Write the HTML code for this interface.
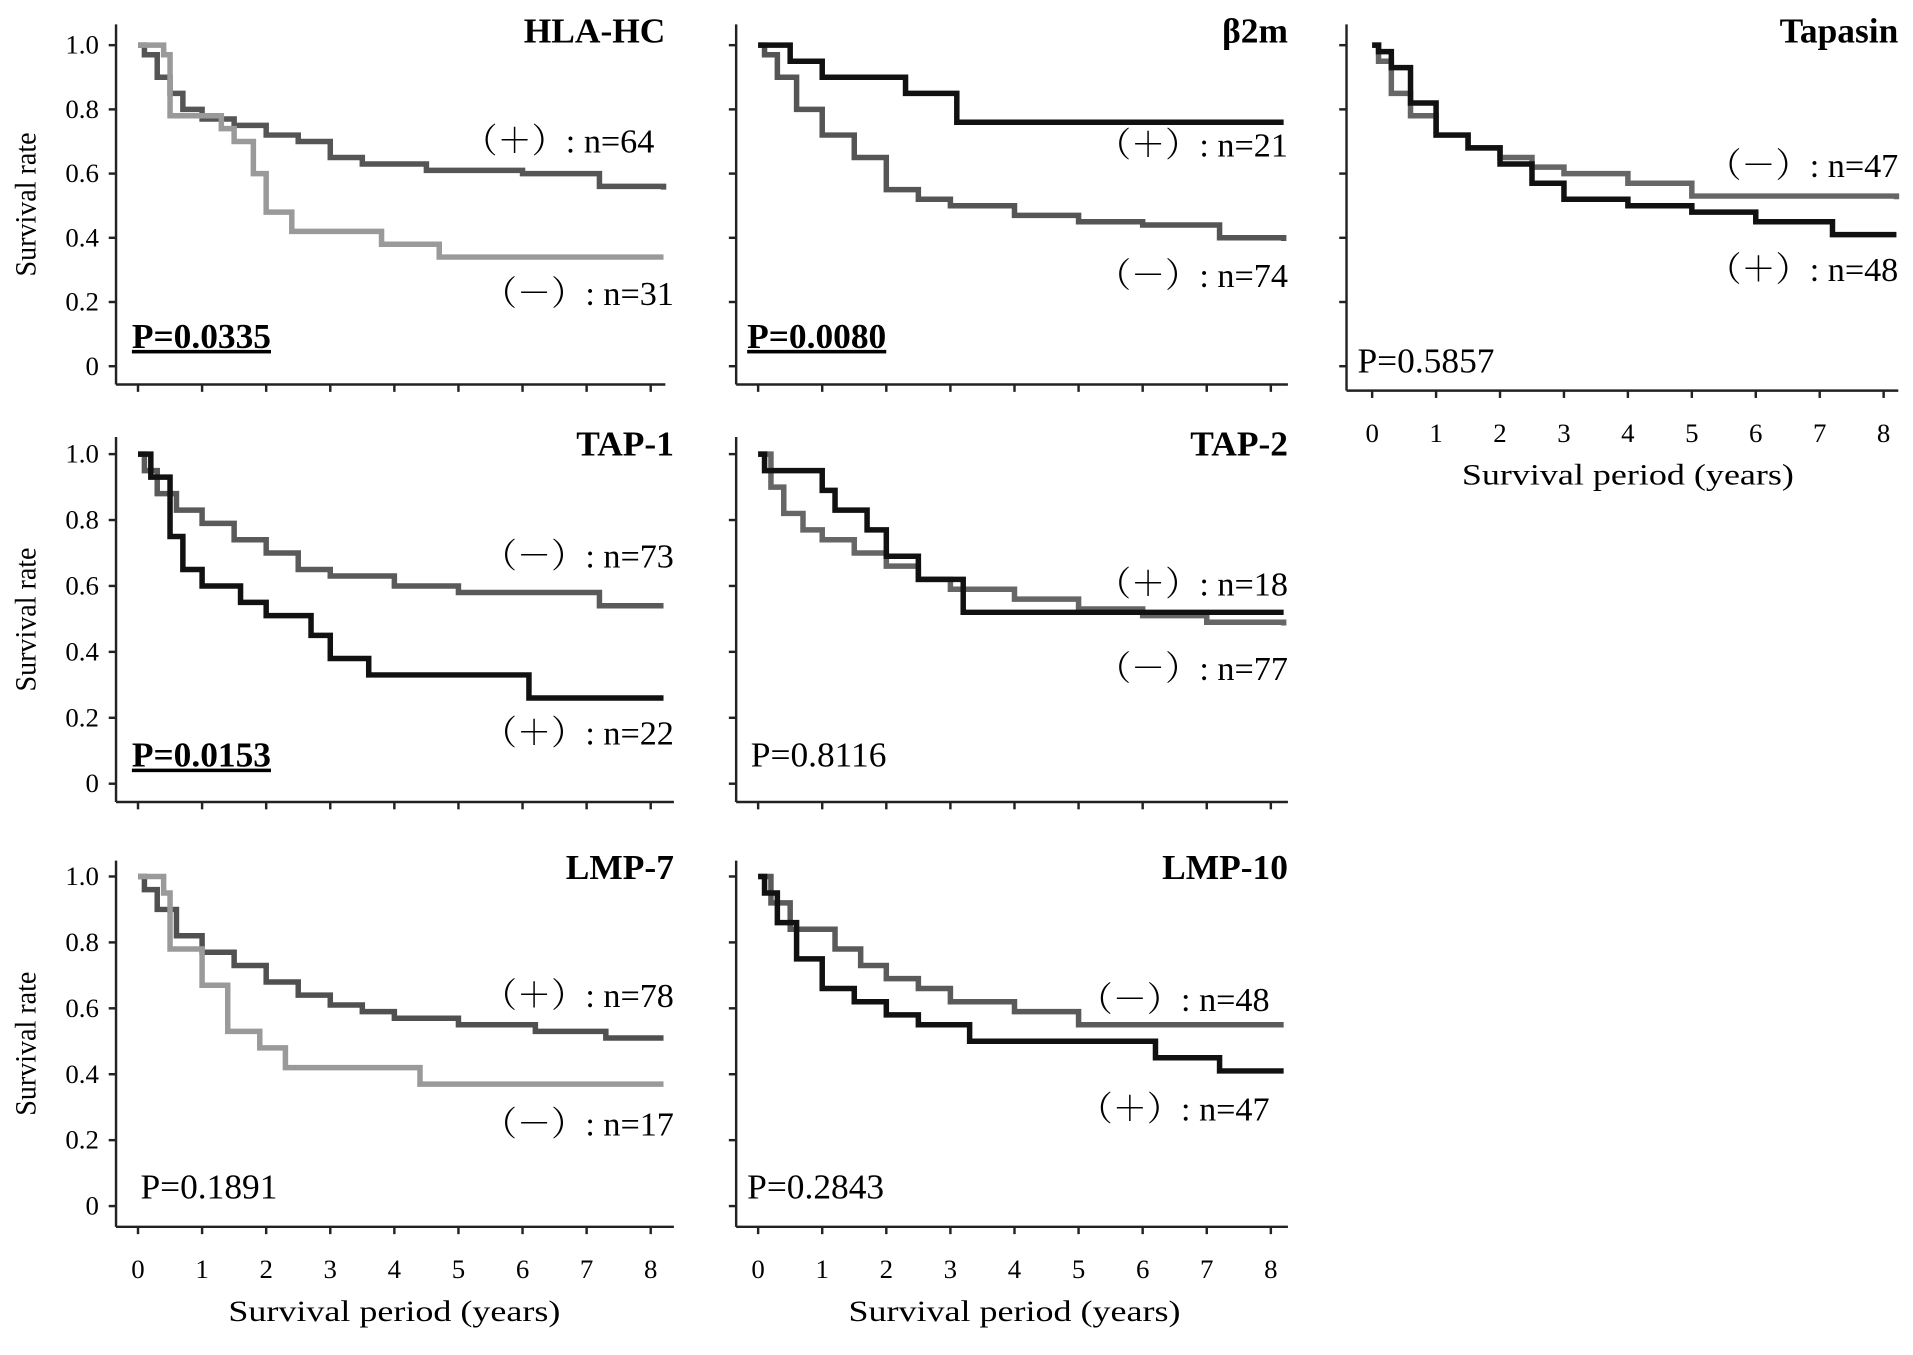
<!DOCTYPE html>
<html><head><meta charset="utf-8"><style>
html,body{margin:0;padding:0;background:#fff;}
svg{display:block;}
text{font-family:"Liberation Serif","Noto Serif CJK SC",serif;}
</style></head><body>
<svg id="chart" width="1913" height="1355" viewBox="0 0 1567 1110" xmlns="http://www.w3.org/2000/svg"></svg>
<script>
// ---- data ----
const panelNames = ["HLA-HC","β2m","Tapasin","TAP-1","TAP-2","LMP-7","LMP-10"];
const yTicks = [0,0.2,0.4,0.6,0.8,1.0];
const yTickLabels = ["0","0.2","0.4","0.6","0.8","1.0"];
const xTicks = [0,1,2,3,4,5,6,7,8];
const pValues = ["P=0.0335","P=0.0080","P=0.5857","P=0.0153","P=0.8116","P=0.1891","P=0.2843"];
const pSignificant = [true,true,false,true,false,false,false];

const hlaPosT=[0,0.1,0.3,0.5,0.7,1,1.5,2,2.5,3,3.5,4.5,6,7.2,8.2];
const hlaPosS=[1,0.97,0.9,0.85,0.8,0.77,0.75,0.72,0.7,0.65,0.63,0.61,0.6,0.56,0.55];
const hlaNegT=[0,0.4,0.5,1.3,1.5,1.8,2,2.4,3.8,4.7,8.2];
const hlaNegS=[1,0.97,0.78,0.74,0.7,0.6,0.48,0.42,0.38,0.34,0.34];

const b2mPosT=[0,0.5,1.0,2.3,3.1,8.2];
const b2mPosS=[1,0.95,0.9,0.85,0.76,0.76];
const b2mNegT=[0,0.1,0.3,0.6,1,1.5,2,2.5,3,4,5,6,7.2,8.2];
const b2mNegS=[1,0.97,0.9,0.8,0.72,0.65,0.55,0.52,0.5,0.47,0.45,0.44,0.4,0.39];

const tapNegT=[0,0.1,0.3,0.6,1,1.5,2,2.5,3,4,5,8.2];
const tapNegS=[1,0.95,0.85,0.78,0.72,0.68,0.65,0.62,0.6,0.57,0.53,0.52];
const tapPosT=[0,0.1,0.3,0.6,1,1.5,2,2.5,3,4,5,6,7.2,8.2];
const tapPosS=[1,0.98,0.93,0.82,0.72,0.68,0.63,0.57,0.52,0.5,0.48,0.45,0.41,0.41];

const tap1NegT=[0,0.1,0.3,0.6,1,1.5,2,2.5,3,4,5,7.2,8.2];
const tap1NegS=[1,0.95,0.88,0.83,0.79,0.74,0.7,0.65,0.63,0.6,0.58,0.54,0.54];
const tap1PosT=[0,0.2,0.5,0.7,1,1.6,2,2.7,3,3.6,6.1,8.2];
const tap1PosS=[1,0.93,0.75,0.65,0.6,0.55,0.51,0.45,0.38,0.33,0.26,0.26];

const tap2PosT=[0,0.1,1.0,1.2,1.7,2,2.5,3.2,8.2];
const tap2PosS=[1,0.95,0.89,0.83,0.77,0.69,0.62,0.52,0.52];
const tap2NegT=[0,0.2,0.4,0.7,1,1.5,2,2.5,3,4,5,6,7,8.2];
const tap2NegS=[1,0.9,0.82,0.77,0.74,0.7,0.66,0.62,0.59,0.56,0.53,0.51,0.49,0.48];

const lmp7PosT=[0,0.1,0.3,0.6,1,1.5,2,2.5,3,3.5,4,5,6.2,7.3,8.2];
const lmp7PosS=[1,0.96,0.9,0.82,0.77,0.73,0.68,0.64,0.61,0.59,0.57,0.55,0.53,0.51,0.51];
const lmp7NegT=[0,0.4,0.5,1,1.4,1.9,2.3,4.4,8.2];
const lmp7NegS=[1,0.95,0.78,0.67,0.53,0.48,0.42,0.37,0.37];

const lmp10NegT=[0,0.2,0.5,1.2,1.6,2,2.5,3,4,5,8.2];
const lmp10NegS=[1,0.92,0.84,0.78,0.73,0.69,0.66,0.62,0.59,0.55,0.55];
const lmp10PosT=[0,0.1,0.3,0.6,1,1.5,2,2.5,3.3,6.2,7.2,8.2];
const lmp10PosS=[1,0.95,0.86,0.75,0.66,0.62,0.58,0.55,0.5,0.45,0.41,0.41];

const NS="http://www.w3.org/2000/svg";
const svg=document.getElementById('chart');
function mk(tag,attrs,parent){const e=document.createElementNS(NS,tag);for(const k in attrs)e.setAttribute(k,attrs[k]);(parent||svg).appendChild(e);return e;}

const layouts=[
 [95,113,533,20,37,300,315,true,false],
 [603,621,1041,20,37,300,315,false,false],
 [1103,1124,1543,20,37,300,320,false,true],
 [95,113,533,358,372,642,657,true,false],
 [603,621,1041,358,372,642,657,false,false],
 [95,113,533,705,718,988,1005,true,true],
 [603,621,1041,705,718,988,1005,false,true]
];
const rightEnds=[545,1055,1555,552,1055,552,1055];
const curves=[
 [[hlaPosT,hlaPosS,"#555"],[hlaNegT,hlaNegS,"#9a9a9a"]],
 [[b2mNegT,b2mNegS,"#555"],[b2mPosT,b2mPosS,"#111"]],
 [[tapNegT,tapNegS,"#666"],[tapPosT,tapPosS,"#111"]],
 [[tap1NegT,tap1NegS,"#5a5a5a"],[tap1PosT,tap1PosS,"#111"]],
 [[tap2NegT,tap2NegS,"#666"],[tap2PosT,tap2PosS,"#111"]],
 [[lmp7PosT,lmp7PosS,"#505050"],[lmp7NegT,lmp7NegS,"#9a9a9a"]],
 [[lmp10NegT,lmp10NegS,"#5a5a5a"],[lmp10PosT,lmp10PosS,"#111"]]
];
const labels=[
 [["（＋）: n=64",536,125],["（－）: n=31",552,250]],
 [["（＋）: n=21",1055,128],["（－）: n=74",1055,235]],
 [["（－）: n=47",1555,145],["（＋）: n=48",1555,230]],
 [["（－）: n=73",552,465],["（＋）: n=22",552,610]],
 [["（＋）: n=18",1055,488],["（－）: n=77",1055,557]],
 [["（＋）: n=78",552,825],["（－）: n=17",552,930]],
 [["（－）: n=48",1040,828],["（＋）: n=47",1040,918]]
];
const pPos=[[108,285],[612,285],[1112,305],[108,628],[615,628],[115,982],[612,982]];

layouts.forEach((L,i)=>{
 const [ax,x0,x8,top,y1,y0,bot,showY,showX]=L;
 const g=mk('g',{});
 
 
 const xs=t=>x0+(x8-x0)*t/8;
 const ys=v=>y0+(y1-y0)*v;
 const re=rightEnds[i];
 const yAxis=mk('line',{x1:ax,y1:top,x2:ax,y2:bot,stroke:'#222','stroke-width':2},g);
 
 
 const xAxis=mk('line',{x1:ax,y1:bot,x2:re,y2:bot,stroke:'#222','stroke-width':2},g);
 
 
 yTicks.forEach((v,k)=>{
  mk('line',{x1:ax-6,y1:ys(v),x2:ax,y2:ys(v),stroke:'#222','stroke-width':2},g);
  if(showY){const t=mk('text',{x:ax-14,y:ys(v)+7,'text-anchor':'end','font-size':22},g);t.textContent=yTickLabels[k];
   
   }
 });
 xTicks.forEach(v=>{
  mk('line',{x1:xs(v),y1:bot,x2:xs(v),y2:bot+6,stroke:'#222','stroke-width':2},g);
  if(showX){const t=mk('text',{x:xs(v),y:bot+42,'text-anchor':'middle','font-size':22},g);t.textContent=String(v);
   
   }
 });
 if(showX){const t=mk('text',{x:(x0+x8)/2,y:bot+77,'text-anchor':'middle','font-size':24,textLength:272,lengthAdjust:'spacingAndGlyphs'},g);t.textContent='Survival period (years)';
  
  }
 if(showY){const cy=(top+bot)/2;const t=mk('text',{x:29,y:cy,'text-anchor':'middle','font-size':24,textLength:118,lengthAdjust:'spacingAndGlyphs',transform:`rotate(-90 29 ${cy})`},g);t.textContent='Survival rate';
  
  }
 curves[i].forEach(([T,S,col])=>{
  let d=`M${xs(T[0])},${ys(S[0])}`;
  for(let k=1;k<T.length;k++){d+=` H${xs(T[k])} V${ys(S[k])}`;}
  const p=mk('path',{d,fill:'none',stroke:col,'stroke-width':4.5},g);
  
  
 });
 const ttl=mk('text',{x:re,y:top+15,'text-anchor':'end','font-size':29,'font-weight':'bold'},g);ttl.textContent=panelNames[i];
 
 
 labels[i].forEach(([s,x,y])=>{const t=mk('text',{x,y,'text-anchor':'end','font-size':28},g);t.textContent=s;
  
  });
 const pt=mk('text',{x:pPos[i][0],y:pPos[i][1],'font-size':29},g);pt.textContent=pValues[i];
 if(pSignificant[i]){pt.setAttribute('font-weight','bold');pt.setAttribute('text-decoration','underline');}
 
 
});
</script>
</body></html>
